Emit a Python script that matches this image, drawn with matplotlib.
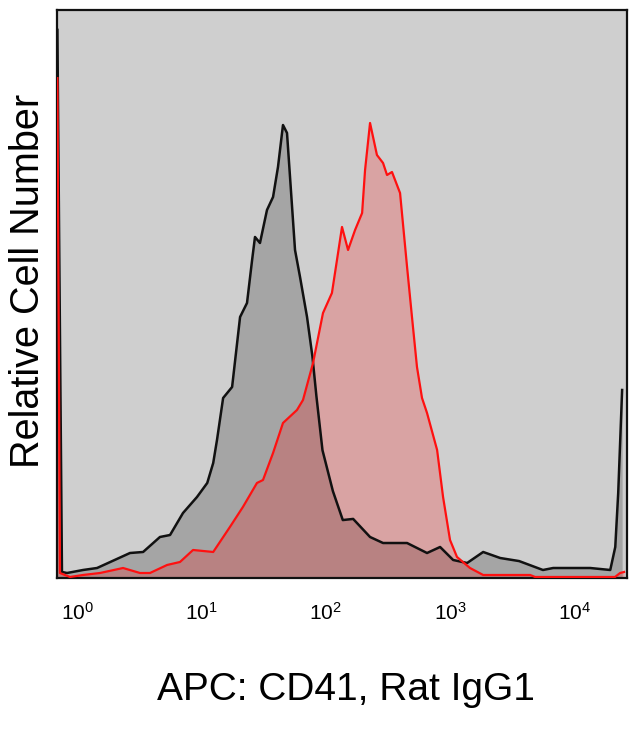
import numpy as np
import matplotlib
matplotlib.use("Agg")
import matplotlib.pyplot as plt
from matplotlib.ticker import NullLocator, FixedLocator

plt.rcParams['font.family'] = ['Liberation Sans', 'DejaVu Sans']

# isotype control (black)
ctrl_x = [0.69, 0.751, 0.825, 1.11, 1.44, 2.65, 3.38, 4.62, 5.57, 7.08, 9.18, 11.1,
          12.4, 13.3, 14.9, 17.6, 20.4, 23.2, 25.5, 26.9, 29.5, 33.6, 37.6, 41.2,
          45.2, 48.7, 51.5, 56.5, 62.0, 70.6, 78.0, 84.0, 94.0, 114, 137, 166, 227,
          289, 451, 653, 832, 1060, 1373, 1849, 2535, 3600, 5600, 6770, 13450,
          19500, 21400, 22600, 24300]
ctrl_y = [96.5, 1.06, 0.88, 1.41, 1.76, 4.40, 4.58, 7.22, 7.57, 11.44, 14.26, 16.73,
          20.25, 24.30, 31.69, 33.63, 45.95, 48.42, 55.99, 60.04, 58.98, 64.79, 67.08,
          72.36, 79.75, 78.35, 70.60, 57.75, 52.99, 45.95, 39.0, 32.0, 22.5, 15.3,
          10.2, 10.4, 7.22, 6.16, 6.16, 4.40, 5.46, 3.17, 2.64, 4.58, 3.52, 2.98,
          1.41, 1.76, 1.76, 1.41, 5.46, 14.96, 33.10]

# CD41 stained (red)
cd41_x = [0.69, 0.724, 0.872, 1.11, 1.52, 2.33, 3.19, 3.84, 5.27, 6.70, 8.53, 12.4,
          16.9, 21.5, 27.9, 31.2, 37.6, 45.2, 58.6, 65.5, 78.9, 94.9, 112, 123, 135,
          151, 172, 196, 207, 227, 258, 289, 311, 341, 396, 451, 494, 542, 595, 653,
          787, 879, 1000, 1138, 1448, 1849, 4415, 4842, 21300, 23400, 25200]
cd41_y = [88.0, 0.88, 0.18, 0.53, 0.88, 1.76, 0.88, 0.88, 2.29, 2.82, 4.93, 4.58,
          8.98, 12.50, 16.73, 17.25, 22.01, 27.29, 29.58, 31.34, 37.85, 46.65, 50.18,
          55.99, 61.80, 57.75, 61.27, 64.26, 71.83, 80.11, 74.47, 73.06, 70.95, 71.48,
          67.78, 54.75, 45.95, 37.15, 31.69, 29.05, 22.54, 14.26, 6.69, 3.70, 1.76,
          0.53, 0.53, 0.18, 0.18, 0.88, 1.06]

decades = [1, 10, 100, 1000, 10000]

fig = plt.figure(figsize=(6.4, 7.33), dpi=100)
ax = fig.add_axes([57/640, 1-578/733, 570/640, 568/733])
ax.set_facecolor('#cfcfcf')

ax.fill_between(ctrl_x, ctrl_y, 0, color='#a5a5a5', linewidth=0, zorder=1)
ax.fill_between(cd41_x, cd41_y, 0, color='red', alpha=0.21, linewidth=0, zorder=2)
ax.plot(ctrl_x, ctrl_y, color='#111111', lw=1.8, zorder=3)
ax.plot(cd41_x, cd41_y, color='#ff1010', lw=1.6, zorder=4)

ax.set_xscale('log')
ax.set_xlim(0.685, 26600)
ax.set_ylim(0, 100)
ax.xaxis.set_major_locator(FixedLocator(decades))
ax.xaxis.set_minor_locator(NullLocator())
ax.set_yticks([])
ax.tick_params(axis='x', length=0, pad=17, labelsize=15)
for s in ax.spines.values():
    s.set_linewidth(1.6)
    s.set_color('#111111')

fig.text(346/640, 1-690/733, 'APC: CD41, Rat IgG1', fontsize=28,
         ha='center', va='center')
fig.text(28/640, 1-281/733, 'Relative Cell Number', fontsize=28.5,
         rotation=90, ha='center', va='center')

plt.savefig('out.png', dpi=100)
